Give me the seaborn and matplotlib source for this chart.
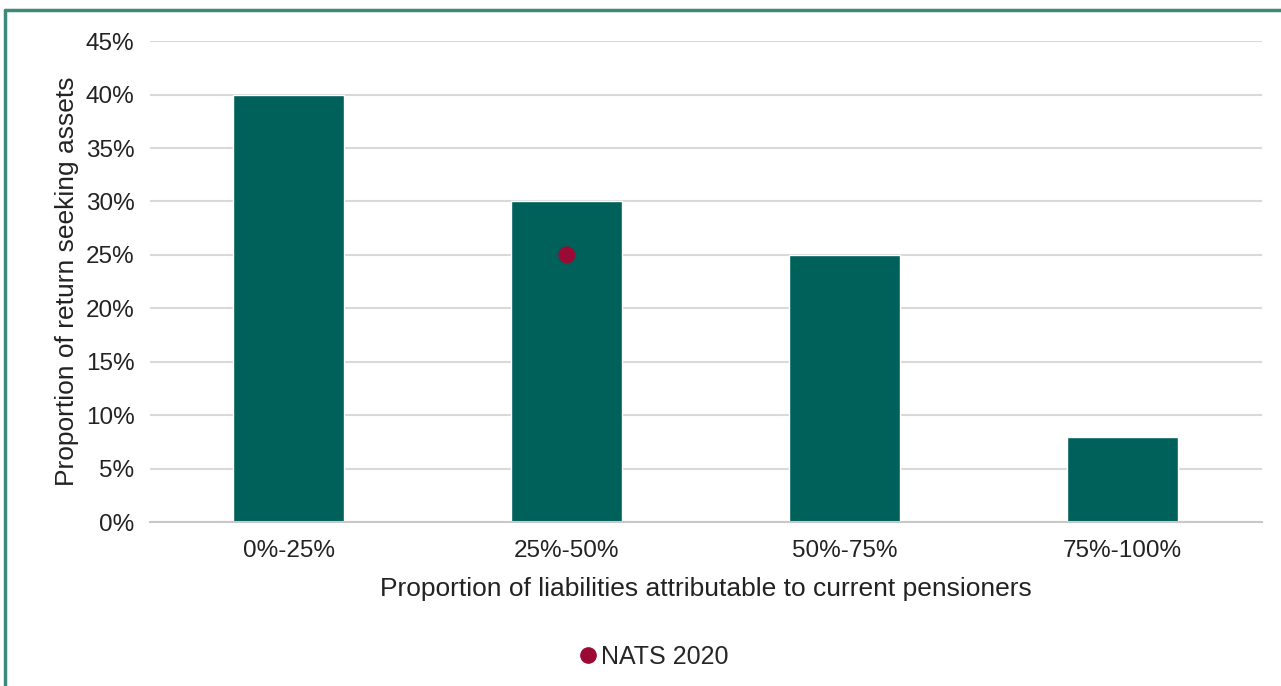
import matplotlib
matplotlib.use("Agg")
import matplotlib.pyplot as plt
import seaborn as sns
import pandas as pd
from matplotlib.lines import Line2D
from matplotlib.ticker import PercentFormatter

categories = ["0%-25%", "25%-50%", "50%-75%", "75%-100%"]
values = [0.40, 0.30, 0.25, 0.08]
marker_category = "25%-50%"
marker_value = 0.25
marker_label = "NATS 2020"
y_ticks = [0, 0.05, 0.10, 0.15, 0.20, 0.25, 0.30, 0.35, 0.40, 0.45]

bar_color = "#00605A"
dot_color = "#9B0A35"

sns.set_theme(style="white")
plt.rcParams["font.family"] = ["Liberation Sans", "DejaVu Sans"]

df = pd.DataFrame({"cat": categories, "val": values})

fig = plt.figure(figsize=(12.81, 6.86), dpi=100)
ax = fig.add_axes([0.117, 0.239, 0.868, 0.701])

sns.barplot(data=df, x="cat", y="val", color=bar_color, width=0.4,
            saturation=1, ax=ax, zorder=2)
sns.scatterplot(x=[marker_category], y=[marker_value], color=dot_color,
                s=150, ax=ax, zorder=3, edgecolor="none")

ax.set_xlim(-0.5, len(categories) - 0.5)
ax.set_ylim(0, 0.45)
ax.set_yticks(y_ticks)
ax.yaxis.set_major_formatter(PercentFormatter(1.0, decimals=0))
ax.grid(axis="y", color="#d9d9d9", linewidth=1.5, zorder=0)
ax.set_axisbelow(True)
for s in ["top", "right", "left"]:
    ax.spines[s].set_visible(False)
ax.spines["bottom"].set_color("#c8c8c8")
ax.spines["bottom"].set_linewidth(1.5)
ax.tick_params(axis="y", length=0, labelsize=17.5, colors="#222222", pad=11)
ax.tick_params(axis="x", length=0, labelsize=17.5, colors="#222222", pad=13)
ax.set_xlabel("Proportion of liabilities attributable to current pensioners",
              fontsize=19, color="#222222", labelpad=11)
ax.set_ylabel("Proportion of return seeking assets", fontsize=19,
              color="#222222", labelpad=5)

handle = Line2D([], [], marker="o", linestyle="none", color=dot_color,
                markersize=11)
fig.legend([handle], [marker_label], loc="center", bbox_to_anchor=(0.509, 0.042),
           frameon=False, fontsize=18, handletextpad=0.0, borderaxespad=0,
           handlelength=1.0)

# frame
frame_color = "#3d8a7a"
fig.add_artist(Line2D([0.004, 0.004], [0, 0.985], transform=fig.transFigure,
                      color=frame_color, linewidth=2.5))
fig.add_artist(Line2D([0.004, 1.0], [0.985, 0.985], transform=fig.transFigure,
                      color=frame_color, linewidth=2.5))

fig.savefig("out.png", dpi=100)
